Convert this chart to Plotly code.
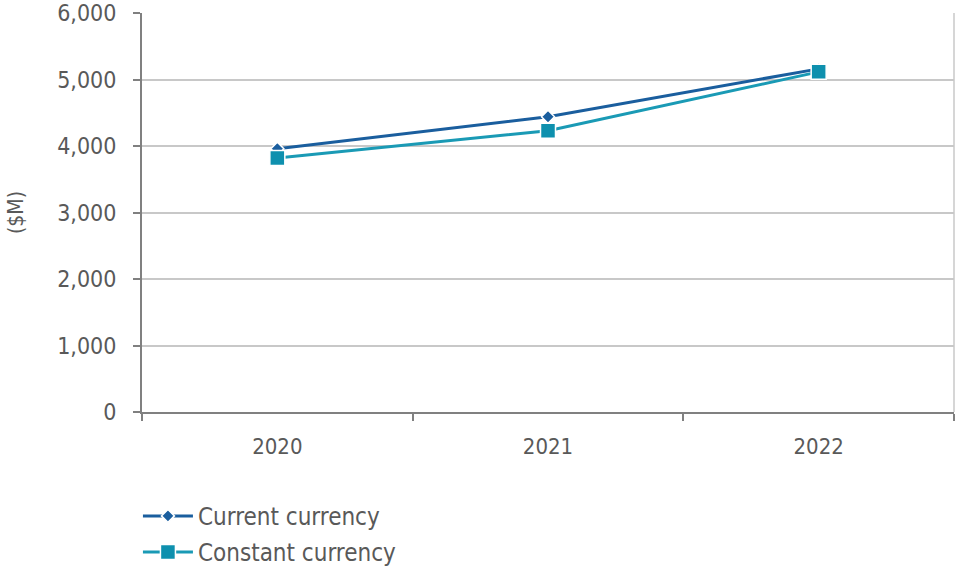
import plotly.graph_objects as go

years = ["2020", "2021", "2022"]
current_currency = [3960, 4440, 5160]
constant_currency = [3820, 4230, 5115]
y_ticks = [0, 1000, 2000, 3000, 4000, 5000, 6000]
y_tick_labels = ["0", "1,000", "2,000", "3,000", "4,000", "5,000", "6,000"]

fig = go.Figure()
fig.add_trace(go.Scatter(
    x=years, y=current_currency, name="Current currency", mode="lines+markers",
    legendgroup="a",
    line=dict(color="#1A5E9E", width=3),
    marker=dict(symbol="diamond", size=10, color="#1A5E9E", line=dict(color="white", width=1.5)),
))
fig.add_trace(go.Scatter(
    x=years, y=constant_currency, name="Constant currency", mode="lines+markers",
    legendgroup="b",
    line=dict(color="#1A9AB5", width=3),
    marker=dict(symbol="square", size=15, color="#0E90AE", line=dict(color="white", width=1.5)),
))

fig.update_layout(
    width=956, height=569,
    margin=dict(l=142, r=2, t=13, b=157, autoexpand=False),
    paper_bgcolor="white", plot_bgcolor="white",
    font=dict(family="DejaVu Sans Condensed, Liberation Sans Narrow, DejaVu Sans", color="#595959", size=20),
    showlegend=True,
    legend=dict(x=-0.005, y=-0.205, xanchor="left", yanchor="top", orientation="v",
                font=dict(size=24, color="#595959"), tracegroupgap=2, itemwidth=50),
    xaxis=dict(type="category", range=[-0.5, 2.5], tickson="boundaries",
               showline=True, linecolor="#808080", linewidth=2,
               ticks="outside", ticklen=7, tickcolor="#808080", tickwidth=1.5,
               ticklabelstandoff=14, automargin=False,
               showgrid=False, tickfont=dict(size=22, family="Liberation Sans Narrow, DejaVu Sans Condensed")),
    yaxis=dict(range=[0, 6000], tickvals=y_ticks, ticktext=y_tick_labels,
               showline=True, linecolor="#808080", linewidth=2,
               ticks="outside", ticklen=7, tickcolor="#808080", tickwidth=1.5,
               ticklabelstandoff=12, automargin=False, ticklabeloverflow="allow",
               showgrid=True, gridcolor="#C8C8C8", gridwidth=1.5, zeroline=False,
               title=dict(text="($M)", font=dict(size=21, color="#595959"), standoff=28),
               tickfont=dict(size=23)),
    shapes=[dict(type="line", xref="paper", yref="paper", x0=1, x1=1, y0=0, y1=1,
                 line=dict(color="#C8C8C8", width=1.5))],
)

fig.write_html("out.html")
